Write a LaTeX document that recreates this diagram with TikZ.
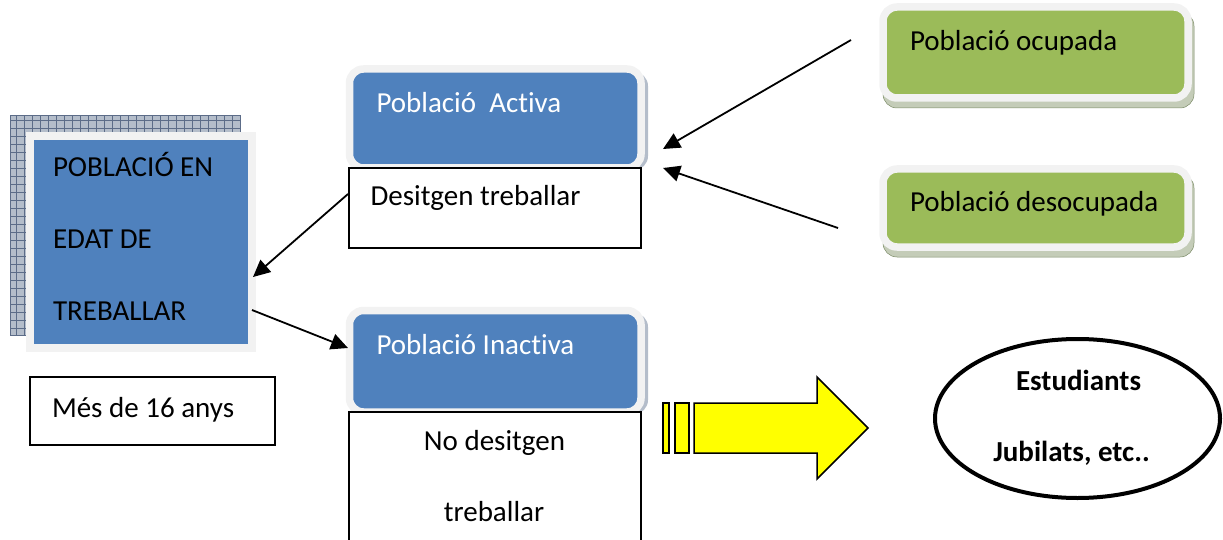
\documentclass[tikz,border=0pt]{standalone}
\usepackage{fontspec}
\setmainfont{Carlito}[Ligatures={NoCommon}]
\usetikzlibrary{arrows.meta,shapes.geometric,patterns}
\definecolor{boxblue}{HTML}{4F81BD}
\definecolor{boxgreen}{HTML}{9BBB59}
\definecolor{framegray}{HTML}{F2F2F2}
\definecolor{shadebg}{HTML}{B4BDCA}
\definecolor{shadeln}{HTML}{5C6C88}
\definecolor{gshadebg}{HTML}{C4CCB8}
\definecolor{gshadeln}{HTML}{7C8C68}
\definecolor{yel}{HTML}{FFFF00}
\begin{document}
\begin{tikzpicture}[x=1pt,y=-1pt,
  every node/.style={font=\fontsize{29}{35}\selectfont, inner sep=0pt, outer sep=0pt},
  sqframe/.style={draw=framegray, line width=8pt, fill=boxblue},
  bframe/.style={draw=framegray, line width=7.5pt, rounded corners=14pt, fill=boxblue},
  gframe/.style={draw=framegray, line width=7.5pt, rounded corners=14pt, fill=boxgreen},
  plainbox/.style={draw=black, line width=1.5pt, fill=white},
  bshadow/.style={fill=shadebg},
  gshadow/.style={fill=gshadebg},
  conn/.style={draw=black, line width=1.8pt, -{Triangle[length=17pt,width=16pt]}},
  txt/.style={anchor=base west, text=black},
  wtxt/.style={anchor=base west, text=white},
  ctxt/.style={anchor=base, text=black},
  btxt/.style={anchor=base, text=black, font=\fontsize{29}{35}\selectfont\bfseries},
  yarrow/.style={fill=yel, draw=black, line width=1.5pt, line join=miter},
]
\useasboundingbox (0,0) rectangle (1223,540);

% ---- left box shadow (hatched)
\fill[shadebg] (10,115) rectangle (240,335);
\draw[shadeln, line width=0.6pt] (10,115) grid[step=8pt] (240,335);
\draw[shadeln, line width=0.6pt] (10,115) rectangle (240,335);

% ---- left box
\node[sqframe, minimum width=222pt, minimum height=212pt] (edat) at (141,242) {};
\node[txt] (edat1) at (53,177) {POBLACIÓ EN};
\node[txt] (edat2) at (53,248.5) {EDAT DE};
\node[txt] (edat3) at (53,320) {TREBALLAR};

% ---- Més de 16 anys
\node[plainbox, minimum width=245pt, minimum height=68pt] (mes) at (152.5,411) {};
\node[txt] (mestxt) at (52,417) {Més de 16 anys};

% ---- Població Activa
\fill[bshadow, rounded corners=14pt] (352,72) rectangle (648,170);
\node[bframe, minimum width=291.5pt, minimum height=99pt] (activa) at (495.25,118.5) {};
\node[wtxt] (activatxt) at (376.5,113) {Població\ \ Activa};
\node[plainbox, minimum width=292pt, minimum height=80pt] (desitgen) at (495,208) {};
\node[txt] (desitgentxt) at (370.5,205.5) {Desitgen treballar};

% ---- Població Inactiva
\fill[bshadow, rounded corners=14pt] (352,313) rectangle (648,414);
\node[bframe, minimum width=291.5pt, minimum height=101.5pt] (inactiva) at (495.25,361.25) {};
\node[wtxt] (inactivatxt) at (376.5,354.3) {Població Inactiva};
\node[plainbox, minimum width=292pt, minimum height=140pt] (nodesitgen) at (495,482) {};
\node[ctxt] (nodes1) at (494.5,450.7) {No desitgen};
\node[ctxt] (nodes2) at (494,521.7) {treballar};

% ---- green boxes
\fill[gshadow, rounded corners=14pt] (883,12) rectangle (1194,108);
\draw[gshadeln, line width=0.5pt, rounded corners=14pt] (883,12) rectangle (1194,108);
\node[gframe, minimum width=305pt, minimum height=91pt] (ocupada) at (1035.5,52.5) {};
\node[txt] (ocupadatxt) at (910,50.7) {Població ocupada};

\fill[gshadow, rounded corners=14pt] (883,174) rectangle (1194,257);
\draw[gshadeln, line width=0.5pt, rounded corners=14pt] (883,174) rectangle (1194,257);
\node[gframe, minimum width=305pt, minimum height=78pt] (desocupada) at (1035.5,208) {};
\node[txt] (desocupadatxt) at (910,211.7) {Població desocupada};

% ---- connectors
\coordinate (a1s) at (851,40);
\coordinate (a1e) at (663,149);
\coordinate (a2s) at (838,228);
\coordinate (a2e) at (663,168);
\coordinate (a3s) at (348,194);
\coordinate (a3e) at (253,277);
\coordinate (a4s) at (252,310);
\coordinate (a4e) at (348,348);
\draw[conn] (a1s) -- (a1e);
\draw[conn] (a2s) -- (a2e);
\draw[conn] (a3s) -- (a3e);
\draw[conn] (a4s) -- (a4e);

% ---- yellow arrow
\draw[yarrow] (663,403) rectangle (669,453);
\draw[yarrow] (675,403) rectangle (689,453);
\draw[yarrow] (694,403) -- (817,403) -- (817,377) -- (868,428) -- (817,479) -- (817,453) -- (694,453) -- cycle;

% ---- ellipse
\node[ellipse, draw=black, line width=4pt, minimum width=285pt, minimum height=159pt] (estud) at (1077.5,418.5) {};
\node[btxt] (estud1) at (1078.5,390) {Estudiants};
\node[btxt] (estud2) at (1071.5,461.7) {Jubilats, etc..};
\end{tikzpicture}
\end{document}
